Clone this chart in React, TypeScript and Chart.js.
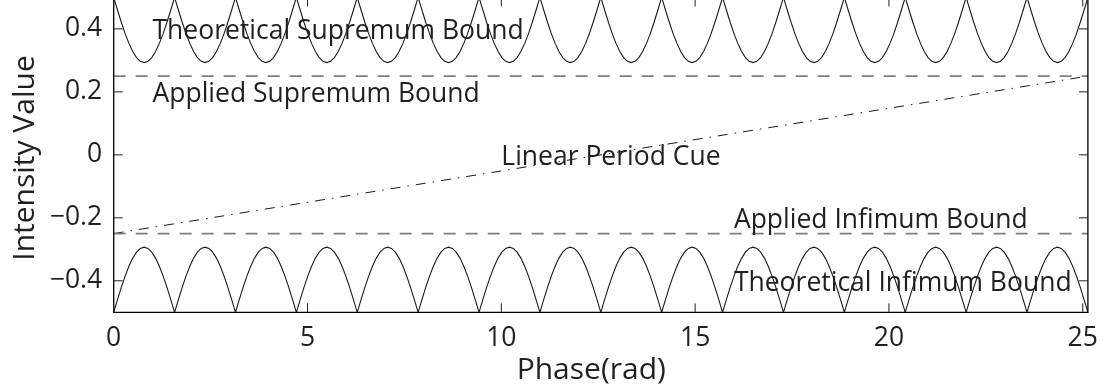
import React, { useEffect, useRef } from "react";
import { Chart, registerables } from "chart.js";

Chart.register(...registerables);

// ---- data ----
const xTickValues = [0, 5, 10, 15, 20, 25];
const yTickValues = [-0.4, -0.2, 0, 0.2, 0.4];
const phaseMin = 0;
const phaseMax = 25.1327; // 8π
const intensityMin = -0.5;
const intensityMax = 0.5;

// one arch of each theoretical bound, sampled every 1/16 of its period
const archPeriod = 1.5708;
const archCount = 16;
const supremumArch = [
  0.5, 0.46, 0.421, 0.385, 0.354, 0.328, 0.309, 0.297, 0.293,
  0.297, 0.309, 0.328, 0.354, 0.385, 0.421, 0.46, 0.5,
];
const infimumArch = [
  -0.5, -0.46, -0.421, -0.385, -0.354, -0.328, -0.309, -0.297, -0.293,
  -0.297, -0.309, -0.328, -0.354, -0.385, -0.421, -0.46, -0.5,
];

const appliedX = [0, 25.1327];
const appliedSupremum = [0.25, 0.25];
const appliedInfimum = [-0.25, -0.25];

const cueX = [0, 25.1327];
const cueY = [-0.25, 0.25];

const annotationTexts = [
  "Theoretical Supremum Bound",
  "Applied Supremum Bound",
  "Linear Period Cue",
  "Applied Infimum Bound",
  "Theoretical Infimum Bound",
];
const annotationX = [1, 1, 10, 16, 16];
const annotationY = [0.4, 0.2, 0, -0.2, -0.4];

const xTitle = "Phase(rad)";
const yTitle = "Intensity Value";

// ---- helpers ----
function buildArches(profile: number[]) {
  const pts: { x: number; y: number }[] = [];
  const steps = profile.length - 1;
  for (let i = 0; i < archCount; i++) {
    for (let k = i === 0 ? 0 : 1; k <= steps; k++) {
      pts.push({ x: (i + k / steps) * archPeriod, y: profile[k] });
    }
  }
  return pts;
}

function zipPts(xs: number[], ys: number[]) {
  return xs.map((x, i) => ({ x, y: ys[i] }));
}

const FONT = "'Open Sans', 'Noto Sans', sans-serif";
const TEXT_COLOR = "#231f20";
const CANVAS_W = 1108;
const CANVAS_H = 430;
const CANVAS_TOP = -30;

const fmtY = (v: number) =>
  v === 0 ? "0" : (v < 0 ? "\u2212" : "") + Math.abs(v).toFixed(1);

const framePlugin = {
  id: "matlabFrame",
  afterDatasetsDraw(chart: any) {
    const { ctx, chartArea, scales } = chart;
    const { left, right, top, bottom } = chartArea;
    const xs = scales.x;
    const ys = scales.y;
    ctx.save();
    // frame
    ctx.strokeStyle = "#000";
    ctx.lineWidth = 1.3;
    ctx.setLineDash([]);
    ctx.beginPath();
    ctx.rect(left, top, right - left, bottom - top);
    ctx.stroke();
    // inward ticks
    const tl = 9;
    ctx.lineWidth = 1;
    ctx.strokeStyle = "#231f20";
    ctx.beginPath();
    xTickValues.forEach((v) => {
      const px = xs.getPixelForValue(v);
      ctx.moveTo(px, bottom);
      ctx.lineTo(px, bottom - tl);
      ctx.moveTo(px, top);
      ctx.lineTo(px, top + tl);
    });
    yTickValues.forEach((v) => {
      const py = ys.getPixelForValue(v);
      ctx.moveTo(left, py);
      ctx.lineTo(left + tl, py);
      ctx.moveTo(right, py);
      ctx.lineTo(right - tl, py);
    });
    ctx.stroke();

    // annotations
    ctx.fillStyle = TEXT_COLOR;
    ctx.font = `26.5px ${FONT}`;
    ctx.textAlign = "left";
    ctx.textBaseline = "alphabetic";
    annotationTexts.forEach((t, i) => {
      const px = xs.getPixelForValue(annotationX[i]);
      const py = ys.getPixelForValue(annotationY[i]);
      ctx.fillText(t, px, py + 10);
    });

    // axis titles
    ctx.font = `30px ${FONT}`;
    ctx.textAlign = "center";
    ctx.fillText(xTitle, (left + right) / 2 - 9.5, 408.5);
    ctx.save();
    ctx.translate(33.5, 188);
    ctx.rotate(-Math.PI / 2);
    ctx.fillText(yTitle, 0, 0);
    ctx.restore();
    ctx.restore();
  },
};

export default function App() {
  const ref = useRef<HTMLCanvasElement | null>(null);

  useEffect(() => {
    if (!ref.current) return;
    const chart = new Chart(ref.current, {
      type: "line",
      data: {
        datasets: [
          {
            label: "Theoretical Supremum Bound",
            data: buildArches(supremumArch),
            borderColor: "#1a1a1a",
            borderWidth: 1.1,
            pointRadius: 0,
            tension: 0,
          },
          {
            label: "Theoretical Infimum Bound",
            data: buildArches(infimumArch),
            borderColor: "#1a1a1a",
            borderWidth: 1.1,
            pointRadius: 0,
            tension: 0,
          },
          {
            label: "Applied Supremum Bound",
            data: zipPts(appliedX, appliedSupremum),
            borderColor: "#7f7f7f",
            borderWidth: 1.6,
            borderDash: [12, 10],
            pointRadius: 0,
          },
          {
            label: "Applied Infimum Bound",
            data: zipPts(appliedX, appliedInfimum),
            borderColor: "#7f7f7f",
            borderWidth: 1.6,
            borderDash: [12, 10],
            pointRadius: 0,
          },
          {
            label: "Linear Period Cue",
            data: zipPts(cueX, cueY),
            borderColor: "#1a1a1a",
            borderWidth: 1,
            borderDash: [10, 7, 1.5, 7],
            pointRadius: 0,
          },
        ],
      },
      options: {
        animation: false,
        responsive: false,
        devicePixelRatio: 1,
        layout: { padding: { top: 27.4, right: 18.7, left: 0, bottom: 0 } },
        plugins: {
          legend: { display: false },
          tooltip: { enabled: false },
        },
        scales: {
          x: {
            type: "linear",
            min: phaseMin,
            max: phaseMax,
            grid: { display: false, drawTicks: false },
            border: { display: false },
            afterBuildTicks: (s: any) => {
              s.ticks = xTickValues.map((v) => ({ value: v }));
            },
            afterFit: (s: any) => {
              s.height = 87.7;
            },
            ticks: {
              autoSkip: false,
              maxRotation: 0,
              padding: 10,
              color: TEXT_COLOR,
              font: { family: FONT, size: 26.5 },
              callback: (v: any) => String(v),
            },
          },
          y: {
            type: "linear",
            min: intensityMin,
            max: intensityMax,
            grid: { display: false, drawTicks: false },
            border: { display: false },
            afterBuildTicks: (s: any) => {
              s.ticks = yTickValues.map((v) => ({ value: v }));
            },
            afterFit: (s: any) => {
              s.width = 113.7;
            },
            ticks: {
              padding: 11.5,
              color: TEXT_COLOR,
              font: { family: FONT, size: 26.5 },
              callback: (v: any) => fmtY(Number(v)),
            },
          },
        },
      },
      plugins: [framePlugin],
    });
    return () => chart.destroy();
  }, []);

  return (
    <div
      style={{
        position: "fixed",
        left: 0,
        top: 0,
        width: CANVAS_W,
        height: 391,
        overflow: "hidden",
        background: "#fff",
      }}
    >
      <canvas
        ref={ref}
        width={CANVAS_W}
        height={CANVAS_H}
        style={{
          position: "absolute",
          left: 0,
          top: CANVAS_TOP,
          width: CANVAS_W,
          height: CANVAS_H,
        }}
      />
    </div>
  );
}
